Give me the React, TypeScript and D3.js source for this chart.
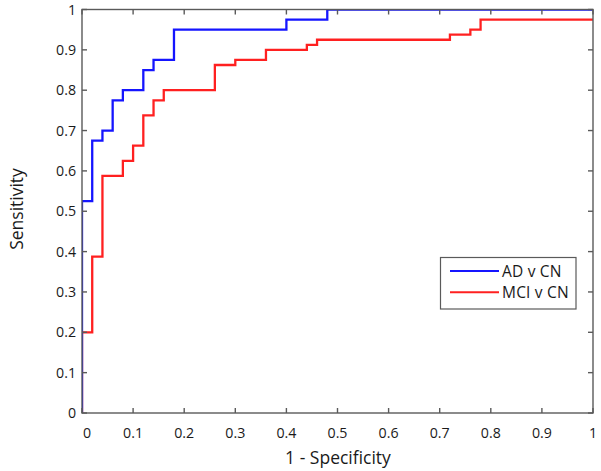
import React from "react";
import * as d3 from "d3";

const xTicks = [0, 0.1, 0.2, 0.3, 0.4, 0.5, 0.6, 0.7, 0.8, 0.9, 1];
const yTicks = [0, 0.1, 0.2, 0.3, 0.4, 0.5, 0.6, 0.7, 0.8, 0.9, 1];
const tickLabels = ["0", "0.1", "0.2", "0.3", "0.4", "0.5", "0.6", "0.7", "0.8", "0.9", "1"];

const adFpr = [0, 0, 0.02, 0.04, 0.06, 0.08, 0.12, 0.14, 0.18, 0.4, 0.48, 1];
const adTpr = [0, 0.525, 0.675, 0.7, 0.775, 0.8, 0.85, 0.875, 0.95, 0.975, 1, 1];

const mciFpr = [0, 0, 0.02, 0.04, 0.08, 0.1, 0.12, 0.14, 0.16, 0.26, 0.3, 0.36, 0.44, 0.46, 0.72, 0.76, 0.78, 1];
const mciTpr = [0, 0.2, 0.3875, 0.5875, 0.625, 0.6625, 0.7375, 0.775, 0.8, 0.8625, 0.875, 0.9, 0.9125, 0.925, 0.9375, 0.95, 0.975, 0.975];

const seriesNames = ["AD v CN", "MCI v CN"];
const seriesColors = ["#1515ff", "#ff2020"];

const W = 601, H = 471;
const L = 82, R = 593, T = 9.5, B = 413;
const FONT = "'Open Sans', 'Noto Sans', sans-serif";

export default function App() {
  const x = d3.scaleLinear().domain([0, 1]).range([L, R]);
  const y = d3.scaleLinear().domain([0, 1]).range([B, T]);
  const line = d3
    .line<[number, number]>()
    .x((d) => x(d[0]))
    .y((d) => y(d[1]))
    .curve(d3.curveStepAfter);
  const ad = adFpr.map((v, i) => [v, adTpr[i]] as [number, number]);
  const mci = mciFpr.map((v, i) => [v, mciTpr[i]] as [number, number]);
  const axisColor = "#5a5a5a";
  const tl = 5;
  return (
    <svg width={W} height={H} style={{ position: "absolute", left: 0, top: 0, background: "#fff" }}>
      <defs>
        <clipPath id="plot">
          <rect x={L} y={T} width={R - L} height={B - T} />
        </clipPath>
      </defs>
      <rect x={0} y={0} width={W} height={H} fill="#fff" />
      <g clipPath="url(#plot)" fill="none" strokeWidth={2.3}>
        <path d={line(mci) || ""} stroke={seriesColors[1]} />
        <path d={line(ad) || ""} stroke={seriesColors[0]} />
      </g>
      <g stroke={axisColor} strokeWidth={1.4}>
        {xTicks.map((t, i) => (
          <g key={"xt" + i}>
            <line x1={x(t)} x2={x(t)} y1={B} y2={B - tl} />
            <line x1={x(t)} x2={x(t)} y1={T} y2={T + tl} />
          </g>
        ))}
        {yTicks.map((t, i) => (
          <g key={"yt" + i}>
            <line x1={L} x2={L + tl} y1={y(t)} y2={y(t)} />
            <line x1={R} x2={R - tl} y1={y(t)} y2={y(t)} />
          </g>
        ))}
        <rect x={L} y={T} width={R - L} height={B - T} fill="none" />
      </g>
      <g fontFamily={FONT} fontSize={14.2} fill="#1a1a1a">
        {xTicks.map((t, i) => (
          <text key={"xl" + i} x={x(t) + (i === 0 ? 5 : 0)} y={438} textAnchor="middle">
            {tickLabels[i]}
          </text>
        ))}
        {yTicks.map((t, i) => (
          <text key={"yl" + i} x={76} y={y(t) + 5} textAnchor="end">
            {tickLabels[i]}
          </text>
        ))}
      </g>
      <text x={338} y={464} textAnchor="middle" fontFamily={FONT} fontSize={17.5} fill="#1a1a1a">
        1 - Specificity
      </text>
      <text
        transform={`translate(23, ${209}) rotate(-90)`}
        textAnchor="middle"
        fontFamily={FONT}
        fontSize={17.5}
        fill="#1a1a1a"
      >
        Sensitivity
      </text>
      <g>
        <rect x={440.5} y={257.5} width={135.5} height={51.5} fill="#fff" stroke={axisColor} strokeWidth={1.2} />
        {seriesNames.map((n, i) => (
          <g key={n}>
            <line x1={450} x2={499} y1={271 + i * 21.3} y2={271 + i * 21.3} stroke={seriesColors[i]} strokeWidth={2} />
            <text x={502} y={271 + i * 21.3 + 5.5} fontFamily={FONT} fontSize={15.5} letterSpacing={0.2} fill="#1a1a1a">
              {n}
            </text>
          </g>
        ))}
      </g>
    </svg>
  );
}
